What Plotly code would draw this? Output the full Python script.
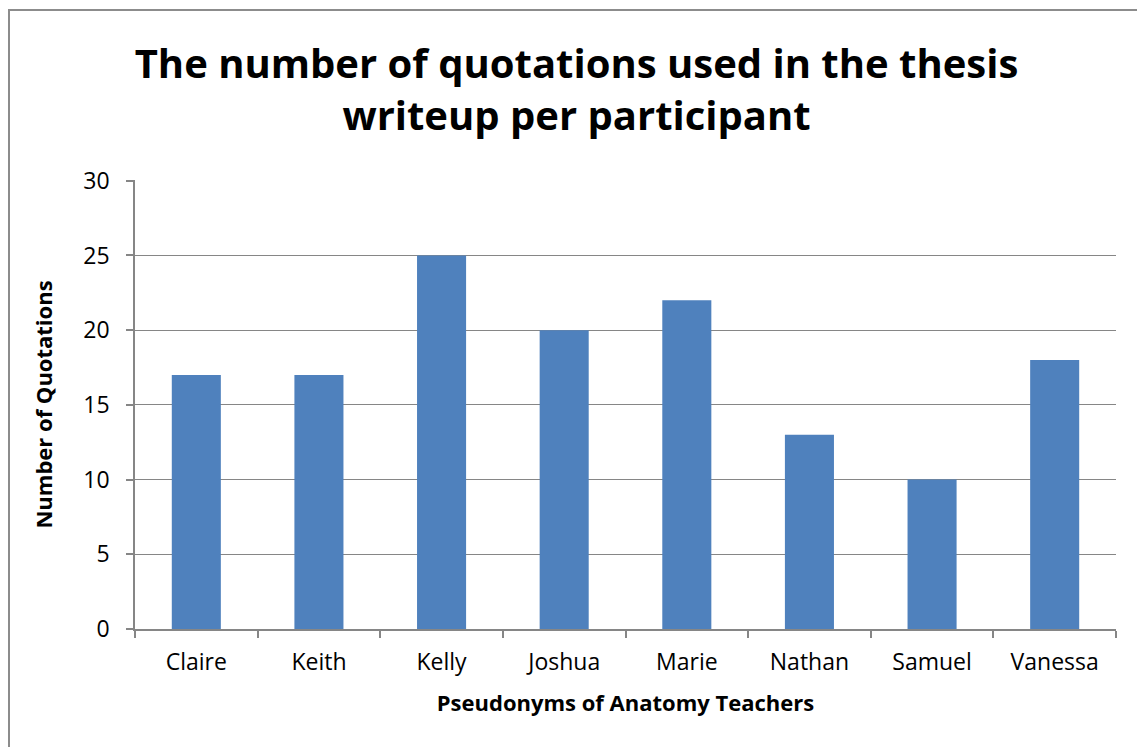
import plotly.graph_objects as go

participants = ["Claire", "Keith", "Kelly", "Joshua", "Marie", "Nathan", "Samuel", "Vanessa"]
quotations = [17, 17, 25, 20, 22, 13, 10, 18]
y_ticks = [0, 5, 10, 15, 20, 25, 30]

# the page body adds an 8px offset; the figure is sized to fit inside the window
OFF = 8
W, H = 1145 - OFF, 747 - OFF
L, R, T, B = 135 - OFF, 29, 180 - OFF, 118
pw, ph = W - L - R, H - T - B

def px_x(p):
    return (p - OFF - L) / pw

def px_y(p):
    return (H - B - (p - OFF)) / ph

FONT = "Open Sans"

fig = go.Figure(go.Bar(
    x=participants, y=quotations,
    marker=dict(color="#4F81BD", line=dict(width=0)),
    width=0.4,
))

fig.update_layout(
    width=W, height=H,
    margin=dict(l=L, r=R, t=T, b=B, pad=0),
    paper_bgcolor="white", plot_bgcolor="white",
    showlegend=False,
    font=dict(family=FONT, color="black"),
    title=dict(
        text="<b>The number of quotations used in the thesis<br>writeup per participant</b>",
        x=0.5, xanchor="center", y=1 - (78 - OFF) / H, yanchor="middle",
        font=dict(size=40, family=FONT, color="black"),
    ),
    xaxis=dict(
        type="category",
        showline=True, linecolor="#868686", linewidth=1.5,
        ticks="outside", tickson="boundaries", ticklen=7, tickcolor="#868686", tickwidth=1.5,
        tickfont=dict(size=23, family=FONT), ticklabelstandoff=12,
        showgrid=False,
        title=dict(text="<b>Pseudonyms of Anatomy Teachers</b>", font=dict(size=22, family=FONT), standoff=19),
    ),
    yaxis=dict(
        range=[0, 30.05], tickvals=y_ticks,
        showline=True, linecolor="#868686", linewidth=1.5,
        ticks="outside", ticklen=7, tickcolor="#868686", tickwidth=1.5,
        showgrid=True, gridcolor="#868686", gridwidth=1,
        tickfont=dict(size=23, family=FONT), ticklabelstandoff=12,
        zeroline=False,
        title=dict(text="<b>Number of Quotations</b>", font=dict(size=22, family=FONT), standoff=25),
    ),
    shapes=[dict(
        type="rect", xref="paper", yref="paper",
        x0=px_x(9), x1=px_x(1170), y0=px_y(770), y1=px_y(10),
        line=dict(color="#8C8C8C", width=2), fillcolor="rgba(0,0,0,0)", layer="below",
    )],
)

fig.write_html("out.html")
